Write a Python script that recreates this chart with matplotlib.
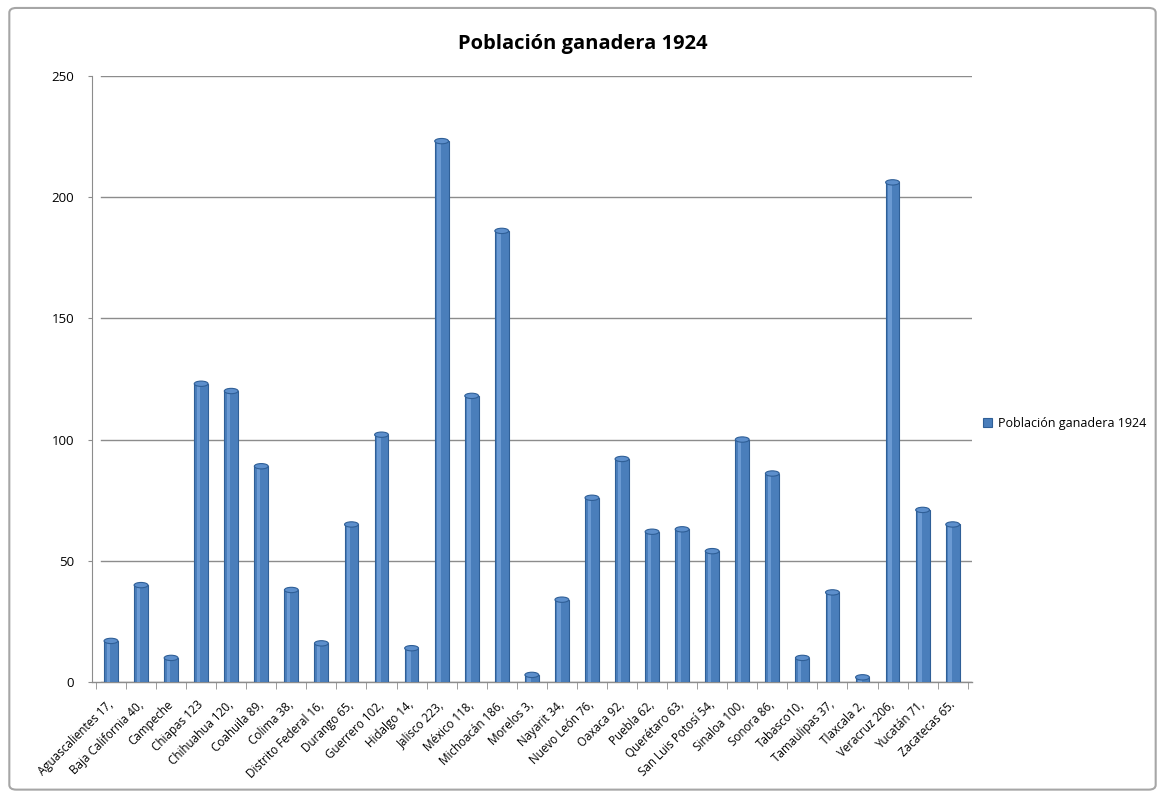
import matplotlib.pyplot as plt
from matplotlib.patches import FancyBboxPatch, Ellipse, Rectangle
from matplotlib.lines import Line2D

# data
estados = ["Aguascalientes", "Baja California", "Campeche", "Chiapas",
           "Chihuahua", "Coahuila", "Colima", "Distrito Federal", "Durango",
           "Guerrero", "Hidalgo", "Jalisco", "México", "Michoacán",
           "Morelos", "Nayarit", "Nuevo León", "Oaxaca", "Puebla",
           "Querétaro", "San Luis Potosí", "Sinaloa", "Sonora", "Tabasco",
           "Tamaulipas", "Tlaxcala", "Veracruz", "Yucatán", "Zacatecas"]
valores = [17, 40, 10, 123, 120, 89, 38, 16, 65, 102, 14, 223, 118, 186,
           3, 34, 76, 92, 62, 63, 54, 100, 86, 10, 37, 2, 206, 71, 65]
etiquetas = ["Aguascalientes 17,", "Baja California 40,", "Campeche",
             "Chiapas 123", "Chihuahua 120,", "Coahuila 89,", "Colima 38,",
             "Distrito Federal 16,", "Durango 65,", "Guerrero 102,",
             "Hidalgo 14,", "Jalisco 223,", "México 118,", "Michoacán 186,",
             "Morelos 3,", "Nayarit 34,", "Nuevo León 76,", "Oaxaca 92,",
             "Puebla 62,", "Querétaro 63,", "San Luis Potosí 54,",
             "Sinaloa 100,", "Sonora 86,", "Tabasco10,", "Tamaulipas 37,",
             "Tlaxcala 2,", "Veracruz 206,", "Yucatán 71,", "Zacatecas 65."]
yticks = [0, 50, 100, 150, 200, 250]

plt.rcParams['font.family'] = ['Open Sans', 'DejaVu Sans']

fig = plt.figure(figsize=(11.65, 7.96), dpi=100)

# chart area frame
fig.patches.append(FancyBboxPatch((0.008, 0.008), 0.984, 0.982,
                                  boxstyle="round,pad=0,rounding_size=0.006",
                                  transform=fig.transFigure, fill=False,
                                  edgecolor='#a6a6a6', linewidth=1.5))

ax = fig.add_axes([0.079, 0.143, 0.755, 0.762])
x = list(range(len(valores)))
ancho = 0.46

# bars as simple cylinders: body plus top ellipse
bars = ax.bar(x, valores, width=ancho, color='#4a7ebb', edgecolor='#2f5f97',
              linewidth=0.8, zorder=3, label='Población ganadera 1924')
for b, v in zip(bars, valores):
    cx = b.get_x() + b.get_width() / 2
    ax.add_patch(Rectangle((b.get_x() + b.get_width() * 0.18, 0),
                           b.get_width() * 0.25, v, color='#6b9ad3',
                           linewidth=0, zorder=3.5))
    ax.add_patch(Ellipse((cx, v), b.get_width(), 2.2, facecolor='#5d8fcc',
                         edgecolor='#2f5f97', linewidth=0.8, zorder=4))

ax.set_xlim(-0.63, len(valores) - 0.37)
ax.set_ylim(0, 250)

# gridlines on the back wall
for t in yticks:
    ax.axhline(t, xmin=0.01, color='#8c8c8c', linewidth=1.0, zorder=1)

for s in ['top', 'right', 'bottom']:
    ax.spines[s].set_visible(False)
ax.spines['left'].set_color('#8c8c8c')

ax.set_yticks(yticks)
ax.tick_params(axis='y', length=3, color='#8c8c8c', labelsize=9.5, pad=10)

ax.set_xticks(x)
ax.set_xticklabels(etiquetas, rotation=45, ha='right', va='center',
                   rotation_mode='anchor', fontsize=8.4)
ax.tick_params(axis='x', length=0, pad=15)
ax.set_xticks([i + 0.5 for i in range(-1, len(valores))], minor=True)
ax.tick_params(axis='x', which='minor', length=5, color='#8c8c8c')
# floor line
ax.add_line(Line2D([-0.63, len(valores) - 0.37], [0, 0], color='#8c8c8c',
                   linewidth=1.0, clip_on=False, zorder=2))

fig.suptitle('Población ganadera 1924', y=0.957, fontsize=14.5,
             fontweight='bold')

ax.legend(loc='center left', bbox_to_anchor=(1.0, 0.427), frameon=False,
          fontsize=9, handlelength=0.7, handleheight=0.7, handletextpad=0.5)

fig.savefig('out.png', dpi=100)
